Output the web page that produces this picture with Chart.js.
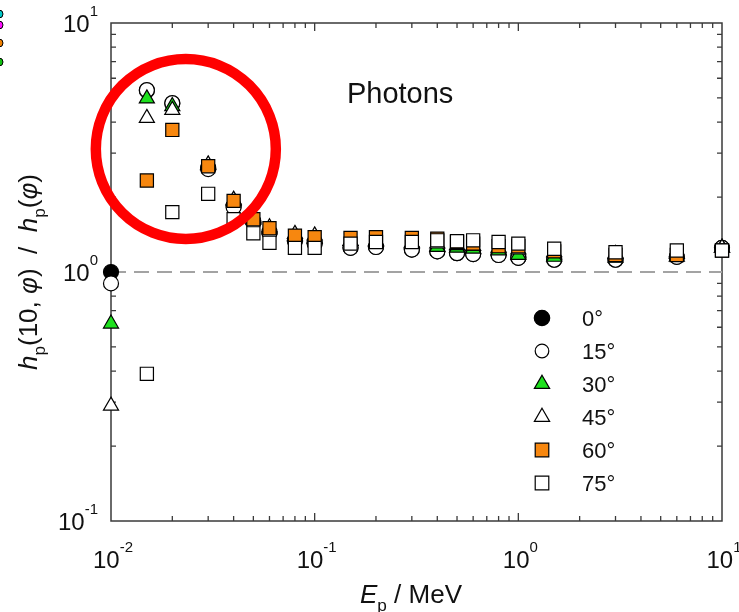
<!DOCTYPE html>
<html>
<head>
<meta charset="utf-8">
<script src="https://cdn.jsdelivr.net/npm/chart.js@4.4.1/dist/chart.umd.min.js"></script>
<style>
  html, body { margin: 0; padding: 0; background: #fff; }
  #wrap { width: 739px; height: 612px; position: relative; }
</style>
</head>
<body>
<div id="wrap"><canvas id="photonCtx" width="739" height="612"></canvas></div>
<script>
// photon energies (MeV)
var energies = [0.01, 0.015, 0.02, 0.03, 0.04, 0.05, 0.06, 0.08, 0.1, 0.15, 0.2, 0.3, 0.4, 0.5, 0.6, 0.8, 1, 1.5, 3, 6, 10]

// hp(10,phi)/hp(phi) per angle
var deg0  = [1.00, 5.35, 4.75, 2.62, 1.84, 1.60, 1.45, 1.34, 1.31, 1.25, 1.26, 1.23, 1.21, 1.19, 1.18, 1.17, 1.14, 1.12, 1.12, 1.15, 1.25]
var deg15 = [0.90, 5.38, 4.77, 2.59, 1.82, 1.58, 1.43, 1.33, 1.30, 1.25, 1.26, 1.23, 1.21, 1.19, 1.18, 1.17, 1.14, 1.12, 1.12, 1.15, 1.25]
var deg30 = [0.62, 4.97, 4.63, 2.68, 1.93, 1.62, 1.48, 1.39, 1.36, 1.33, 1.32, 1.30, 1.26, 1.25, 1.24, 1.22, 1.17, 1.15, 1.14, 1.15, 1.25]
var deg45 = [0.29, 4.15, 4.47, 2.70, 1.95, 1.64, 1.51, 1.42, 1.40, 1.33, 1.33, 1.31, 1.30, 1.28, 1.27, 1.25, 1.23, 1.20, 1.18, 1.18, 1.25]
var deg60 = [null, 2.33, 3.72, 2.66, 1.93, 1.63, 1.50, 1.40, 1.38, 1.37, 1.38, 1.37, 1.36, 1.32, 1.30, 1.27, 1.27, 1.21, 1.17, 1.17, 1.22]
var deg75 = [null, 0.39, 1.74, 2.06, 1.63, 1.43, 1.31, 1.25, 1.25, 1.30, 1.32, 1.32, 1.34, 1.33, 1.34, 1.32, 1.30, 1.24, 1.20, 1.22, 1.22]

var angleLabels = ['0°', '15°', '30°', '45°', '60°', '75°']
var xTickVals = [0.01, 0.1, 1, 10]
var xTickExps = ['-2', '-1', '0', '1']
var yTickVals = [0.1, 1, 10]
var yTickExps = ['-1', '0', '1']
var refLine = [1, 1]          // dashed reference at ratio = 1
var refLineX = [0.01, 10]

var fam = '"Liberation Sans", Arial, Helvetica, sans-serif'
var GREEN = '#1ee01e'
var ORANGE = '#f7870f'

function toPts(vals) {
    var out = []
    for (var i = 0; i < energies.length; i++) {
        if (vals[i] != null) out.push({x: energies[i], y: vals[i]})
    }
    return out
}

var styles = [
    {style: 'circle',   r: 7.5, fill: '#000000'},
    {style: 'circle',   r: 7.5, fill: '#ffffff'},
    {style: 'triangle', r: 8.7, fill: GREEN},
    {style: 'triangle', r: 8.7, fill: '#ffffff'},
    {style: 'rect',     r: 9.3, fill: ORANGE},
    {style: 'rect',     r: 9.3, fill: '#ffffff'}
]
var allVals = [deg0, deg15, deg30, deg45, deg60, deg75]

var datasets = allVals.map(function(v, i) {
    return {
        label: angleLabels[i],
        data: toPts(v),
        showLine: false,
        pointStyle: styles[i].style,
        pointRadius: styles[i].r,
        backgroundColor: styles[i].fill,
        borderColor: '#000000',
        borderWidth: 1.2,
        order: 5 - i,        // 75° drawn on top
        clip: false
    }
})
datasets.push({
    type: 'line',
    label: 'ref',
    data: refLineX.map(function(x, i) { return {x: x, y: refLine[i]} }),
    borderColor: '#a3a3a3',
    borderWidth: 2,
    borderDash: [15, 8],
    pointRadius: 0,
    order: 10,
    clip: false
})

function powLabel(ctx, exp, x, y, align) {
    ctx.textAlign = 'left'
    ctx.textBaseline = 'alphabetic'
    ctx.font = '24px ' + fam
    var bw = ctx.measureText('10').width
    ctx.font = '15px ' + fam
    var ew = ctx.measureText(exp).width
    var x0 = align === 'right' ? x - bw - ew : x - (bw + ew) / 2
    ctx.font = '24px ' + fam
    ctx.fillText('10', x0, y + 8.6)
    ctx.font = '15px ' + fam
    ctx.fillText(exp, x0 + bw, y - 7.5)
}

// segments: [text, italic, subscript]
function richText(ctx, segs, cx, cy, size) {
    var w = 0
    segs.forEach(function(s) {
        var sz = s[2] ? size * 0.66 : size
        ctx.font = (s[1] ? 'italic ' : '') + sz + 'px ' + fam
        w += ctx.measureText(s[0]).width
    })
    var x = cx - w / 2
    var base = cy + size * 0.358
    ctx.textAlign = 'left'
    ctx.textBaseline = 'alphabetic'
    segs.forEach(function(s) {
        var sz = s[2] ? size * 0.66 : size
        ctx.font = (s[1] ? 'italic ' : '') + sz + 'px ' + fam
        ctx.fillText(s[0], x, s[2] ? base + size * 0.28 : base)
        x += ctx.measureText(s[0]).width
    })
}

var framePlugin = {
    id: 'frame',
    beforeDatasetsDraw: function(chart) {
        var ctx = chart.ctx, a = chart.chartArea
        var xs = chart.scales.x, ys = chart.scales.y
        ctx.save()
        ctx.strokeStyle = '#3a3a3a'
        ctx.lineWidth = 1.5
        ctx.strokeRect(a.left, a.top, a.right - a.left, a.bottom - a.top)
        ctx.lineWidth = 1.3
        ctx.beginPath()
        // x ticks (inward, bottom and top)
        for (var d = -2; d < 1; d++) {
            for (var m = 1; m <= 9; m++) {
                var v = m * Math.pow(10, d)
                if (m === 1 && d === -2) continue
                var px = xs.getPixelForValue(v)
                var len = m === 1 ? 8 : 5
                ctx.moveTo(px, a.bottom); ctx.lineTo(px, a.bottom - len)
                ctx.moveTo(px, a.top); ctx.lineTo(px, a.top + len)
            }
        }
        for (var d2 = -1; d2 < 1; d2++) {
            for (var m2 = 1; m2 <= 9; m2++) {
                if (m2 === 1 && d2 === -1) continue
                var py = ys.getPixelForValue(m2 * Math.pow(10, d2))
                var len2 = m2 === 1 ? 8 : 5
                ctx.moveTo(a.left, py); ctx.lineTo(a.left + len2, py)
                ctx.moveTo(a.right, py); ctx.lineTo(a.right - len2, py)
            }
        }
        ctx.stroke()

        ctx.fillStyle = '#111'
        xTickVals.forEach(function(v, i) {
            powLabel(ctx, xTickExps[i], xs.getPixelForValue(v) + 2, a.bottom + 38, 'center')
        })
        yTickVals.forEach(function(v, i) {
            powLabel(ctx, yTickExps[i], a.left - 13, ys.getPixelForValue(v), 'right')
        })

        // axis titles
        richText(ctx, [['E', true], ['p', false, true], [' / MeV', false]], 411, 594, 26)
        ctx.translate(28, 272)
        ctx.rotate(-Math.PI / 2)
        richText(ctx, [['h', true], ['p', false, true], ['(10, ', false], ['φ', true], [')  /  ', false],
                       ['h', true], ['p', false, true], ['(', false], ['φ', true], [')', false]], 0, 0, 26)
        ctx.restore()
    },
    afterDraw: function(chart) {
        var ctx = chart.ctx
        var xs = chart.scales.x, ys = chart.scales.y
        ctx.save()
        // panel label
        ctx.fillStyle = '#111'
        ctx.font = '29px ' + fam
        ctx.textAlign = 'left'
        ctx.textBaseline = 'alphabetic'
        ctx.fillText('Photons', xs.getPixelForValue(0.144), ys.getPixelForValue(4.77))

        // legend
        var lx = 542, ly = 318, step = 33
        angleLabels.forEach(function(lab, i) {
            var y = ly + i * step
            ctx.fillStyle = styles[i].fill
            ctx.strokeStyle = '#000'
            ctx.lineWidth = 1.2
            var r = styles[i].style === 'rect' ? 9.6 : (styles[i].style === 'triangle' ? 8.8 : (i === 0 ? 7.7 : 6.8))
            Chart.helpers.drawPoint(ctx, {pointStyle: styles[i].style, radius: r, rotation: 0, borderWidth: 1.2}, lx, y)
            ctx.fillStyle = '#111'
            ctx.font = '22px ' + fam
            ctx.fillText(lab, 582, y + 7.9)
        })

        // red highlight ring
        ctx.strokeStyle = '#ff0000'
        ctx.lineWidth = 10.5
        ctx.beginPath()
        ctx.arc(xs.getPixelForValue(0.0233), ys.getPixelForValue(3.12), 90, 0, Math.PI * 2)
        ctx.stroke()

        // clipped legend of the neighbouring panel at the left edge
        var bits = [['#00c8c8', 14], ['#ff10ff', 25], ['#f08000', 43], ['#10c010', 62]]
        ctx.lineWidth = 1
        bits.forEach(function(b) {
            ctx.fillStyle = b[0]
            ctx.strokeStyle = '#000'
            ctx.beginPath()
            ctx.arc(-1, b[1], 4, 0, Math.PI * 2)
            ctx.fill(); ctx.stroke()
        })
        ctx.restore()
    }
}

var ctx = document.getElementById('photonCtx')
new Chart(ctx, {
    type: 'scatter',
    data: {datasets: datasets},
    options: {
        responsive: false,
        animation: false,
        events: [],
        layout: {padding: {left: 111, top: 23, right: 17, bottom: 91}},
        scales: {
            x: {type: 'logarithmic', min: 0.01, max: 10, display: false},
            y: {type: 'logarithmic', min: 0.1, max: 10, display: false}
        },
        plugins: {legend: {display: false}, tooltip: {enabled: false}}
    },
    plugins: [framePlugin]
})
</script>
</body>
</html>
